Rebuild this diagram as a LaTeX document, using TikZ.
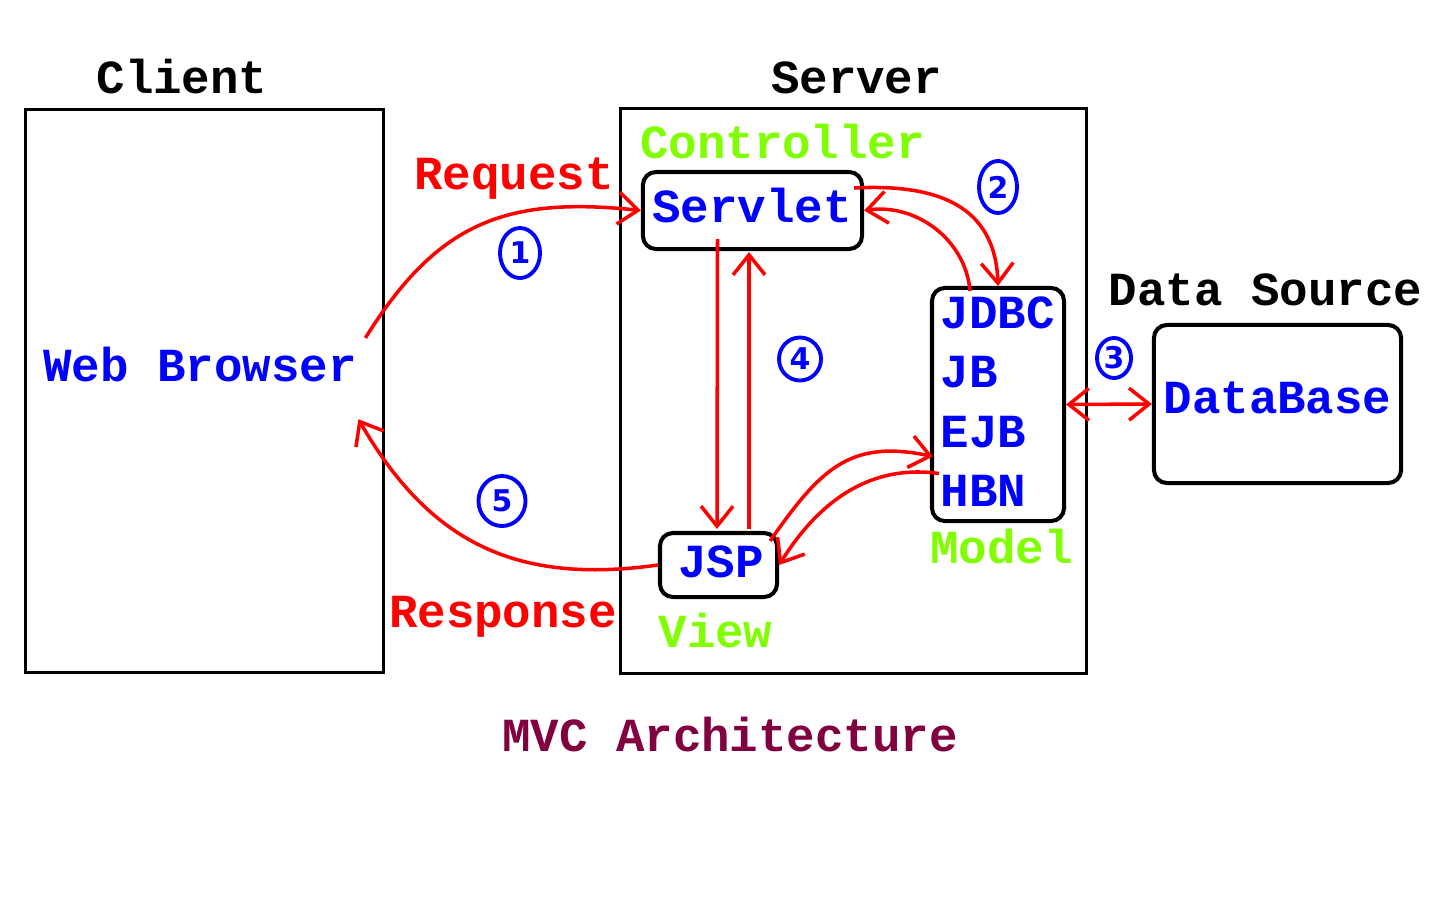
\documentclass[tikz,border=0pt]{standalone}
\usepackage{fontspec}
\setmonofont{Liberation Mono}
\newfontfamily\digitfont{DejaVu Sans}
\usetikzlibrary{arrows.meta,shapes.geometric,calc}
\definecolor{lawn}{RGB}{128,255,0}
\definecolor{wine}{RGB}{128,0,64}
\tikzset{
    plainbox/.style={draw, line width=0.9pt, inner sep=0pt},
    roundbox/.style={draw, rounded corners=0.13cm, line width=1.15pt, inner sep=0pt},
    txt/.style={font=\ttfamily\bfseries\fontsize{13.5}{16}\selectfont, inner sep=0pt, anchor=base},
    numcirc/.style={ellipse, draw=blue, line width=1.1pt, text=blue, inner sep=0pt, font=\digitfont\bfseries\fontsize{8.5}{10}\selectfont},
    flow/.style={draw=red, line width=1pt, -{Straight Barb[length=2mm,width=3.2mm]}},
    biflow/.style={draw=red, line width=1pt, {Straight Barb[length=2mm,width=3.2mm]}-{Straight Barb[length=2mm,width=3.2mm]}}
}
\begin{document}
\begin{tikzpicture}[x=0.01cm, y=0.01cm]
    \useasboundingbox (0,0) rectangle (1440,-900);

    % Boxes
    \node[plainbox, minimum width=3.57cm, minimum height=5.62cm] (client) at (204.5,-391) {};
    \node[plainbox, minimum width=4.65cm, minimum height=5.64cm] (server) at (853.5,-391) {};
    \node[roundbox, minimum width=2.19cm, minimum height=0.77cm] (servlet) at (752.5,-210.5) {};
    \node[roundbox, minimum width=1.32cm, minimum height=2.33cm] (model) at (998,-404.5) {};
    \node[roundbox, minimum width=2.47cm, minimum height=1.58cm] (database) at (1277.5,-404) {};
    \node[roundbox, minimum width=1.17cm, minimum height=0.64cm] (jsp) at (718.5,-565) {};

    % Texts
    \node[txt] (clientlbl) at (182,-93) {Client};
    \node[txt] (serverlbl) at (856.5,-93) {Server};
    \node[txt, text=lawn] (ctrllbl) at (782.5,-158) {Controller};
    \node[txt, text=red] (reqlbl) at (514,-189) {Request};
    \node[txt, text=blue] (servlettxt) at (752,-222) {Servlet};
    \node[txt, text=blue] (browser) at (200,-381) {Web Browser};
    \node[txt] (dslbl) at (1265.5,-305) {Data Source};
    \node[txt, text=blue] (dbtxt) at (1277.5,-413) {DataBase};
    \node[txt, text=blue, anchor=base west] (jdbc) at (940,-328) {JDBC};
    \node[txt, text=blue, anchor=base west] (jb) at (940,-387) {JB};
    \node[txt, text=blue, anchor=base west] (ejb) at (940,-447) {EJB};
    \node[txt, text=blue, anchor=base west] (hbn) at (940,-506) {HBN};
    \node[txt, text=lawn] (modellbl) at (1001.5,-563) {Model};
    \node[txt, text=blue] (jsptxt) at (721,-577) {JSP};
    \node[txt, text=lawn] (viewlbl) at (715.5,-647) {View};
    \node[txt, text=red] (resplbl) at (503,-627) {Response};
    \node[txt, text=wine] (title) at (730,-751) {MVC Architecture};

    % Steps
    \node[numcirc, minimum width=0.40cm, minimum height=0.50cm] (n1) at (520,-253) {1};
    \node[numcirc, minimum width=0.38cm, minimum height=0.52cm] (n2) at (998,-187) {2};
    \node[numcirc, minimum width=0.34cm, minimum height=0.40cm] (n3) at (1114,-358) {3};
    \node[numcirc, minimum width=0.42cm, minimum height=0.43cm] (n4) at (800,-359) {4};
    \node[numcirc, minimum width=0.47cm, minimum height=0.50cm] (n5) at (502,-501) {5};

    % edges
    \draw[flow] ($(browser.north east)+(8,8)$) to[out=58,in=174,looseness=1.15] (servlet.west);
    \draw[flow] (jsp.west) to[out=188,in=-60,looseness=1.1] ($(browser.south east)+(1,-37)$);
    \draw[flow] ($(servlet.south)+(-35,12)$) -- ($(jsp.north)+(-1.5,2)$);
    \draw[flow] ($(jsp.north)+(30.5,2)$) -- ($(servlet.south)+(-3.5,-1)$);
    \draw[flow] ($(servlet.east)+(-10,22.5)$) to[out=3,in=92,looseness=1.2] (model.north);
    \draw[flow] ($(model.north)+(-28,-5)$) to[out=95,in=8] (servlet.east);
    \draw[flow] ($(jsp.north east)+(-9,-10)$) to[out=55,in=168,looseness=1.2] ($(model.west)+(3,-52)$);
    \draw[flow] ($(model.west)+(9,-69)$) to[out=172,in=58] (jsp.east);
    \draw[biflow] (model.east) -- (database.west);
\end{tikzpicture}
\end{document}
